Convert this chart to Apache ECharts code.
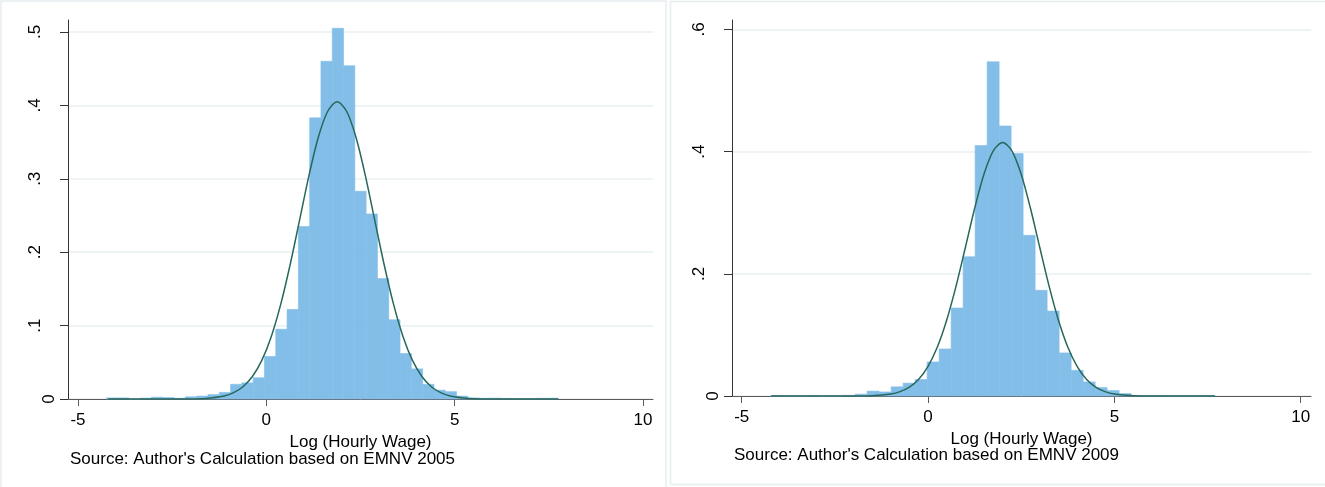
<!DOCTYPE html>
<html>
<head>
<meta charset="utf-8">
<script src="https://cdn.jsdelivr.net/npm/echarts@6/dist/echarts.min.js"></script>
<style>
html,body{margin:0;padding:0;background:#fff;}
#chart{width:1325px;height:487px;}
</style>
</head>
<body>
<div id="chart"></div>
<script>
// ---------- DATA ----------
// 2005 histogram (density), bins of equal width
const binStart2005 = -4.25;
const binWidth2005 = 0.3;
const heights2005 = [
  0.0015, 0.0015, 0.0, 0.0012, 0.0025, 0.002, 0.001, 0.003, 0.004, 0.006,
  0.009, 0.020, 0.022, 0.029, 0.058, 0.095, 0.122, 0.235, 0.383, 0.460,
  0.505, 0.454, 0.283, 0.252, 0.164, 0.108, 0.062, 0.041, 0.020, 0.012,
  0.010, 0.004, 0.0015, 0.001, 0.0012, 0.0008, 0.0005, 0.0005, 0.001, 0.001
];
// 2005 normal density curve
const curveX2005 = [-4.2, -3, -2.12, -1.62, -1.12, -0.87, -0.62, -0.37, -0.12, 0.13, 0.38, 0.63, 0.88, 1.13, 1.38, 1.63, 1.88, 2.13, 2.38, 2.63, 2.88, 3.13, 3.38, 3.63, 3.88, 4.13, 4.38, 4.63, 4.88, 5.38, 5.88, 7.75];
const curveY2005 = [0, 0, 0.0001, 0.0008, 0.0041, 0.0086, 0.0167, 0.0306, 0.0526, 0.0849, 0.1285, 0.1825, 0.243, 0.304, 0.3565, 0.392, 0.405, 0.392, 0.3565, 0.304, 0.243, 0.1825, 0.1285, 0.0849, 0.0526, 0.0306, 0.0167, 0.0086, 0.0041, 0.0008, 0.0001, 0];

// 2009 histogram (density)
const binStart2009 = -4.21;
const binWidth2009 = 0.322;
const heights2009 = [
  0.0005, 0, 0, 0.0005, 0, 0, 0.001, 0.003, 0.008, 0.0066,
  0.015, 0.021, 0.027, 0.0557, 0.077, 0.144, 0.228, 0.410, 0.547, 0.442,
  0.397, 0.263, 0.173, 0.139, 0.0705, 0.042, 0.023, 0.0137, 0.009, 0.004,
  0.001, 0.0005, 0.0005, 0.0003, 0.0003, 0.0003, 0.0005
];
const curveX2009 = [-4.21, -3, -2, -1.5, -1.0, -0.75, -0.5, -0.25, 0, 0.25, 0.5, 0.75, 1.0, 1.25, 1.5, 1.75, 2.0, 2.25, 2.5, 2.75, 3.0, 3.25, 3.5, 3.75, 4.0, 4.25, 4.5, 4.75, 5.0, 5.5, 6.0, 7.7];
const curveY2009 = [0, 0, 0.0001, 0.0006, 0.0033, 0.0072, 0.0145, 0.0274, 0.0485, 0.0801, 0.124, 0.1794, 0.2426, 0.3068, 0.3629, 0.4013, 0.415, 0.4013, 0.3629, 0.3068, 0.2426, 0.1794, 0.124, 0.0801, 0.0485, 0.0274, 0.0145, 0.0072, 0.0033, 0.0006, 0.0001, 0];

// ticks
const xTickValues = [-5, 0, 5, 10];
const xTickLabels = ['-5', '0', '5', '10'];
const yTickValues2005 = [0, 0.1, 0.2, 0.3, 0.4, 0.5];
const yTickLabels2005 = ['0', '.1', '.2', '.3', '.4', '.5'];
const yTickValues2009 = [0, 0.2, 0.4, 0.6];
const yTickLabels2009 = ['0', '.2', '.4', '.6'];

const xAxisTitle = 'Log (Hourly Wage)';
const source2005 = "Source: Author's Calculation based on EMNV 2005";
const source2009 = "Source: Author's Calculation based on EMNV 2009";

// ---------- STYLE ----------
const FONT = "'Liberation Sans', Arial, Helvetica, sans-serif";
const BAR = '#83bee9';
const CURVE = '#26685b';
const GRIDC = '#e8eff1';

function lookup(vals, labels) {
  return function (v) {
    for (let i = 0; i < vals.length; i++) if (Math.abs(vals[i] - v) < 1e-9) return labels[i];
    return '';
  };
}

function histData(start, width, heights) {
  return heights.map((h, i) => [start + i * width, start + (i + 1) * width, h]);
}

function renderHist(params, api) {
  const p0 = api.coord([api.value(0), api.value(2)]);
  const p1 = api.coord([api.value(1), 0]);
  return {
    type: 'rect',
    shape: { x: p0[0], y: p0[1], width: p1[0] - p0[0], height: p1[1] - p0[1] },
    style: { fill: BAR, stroke: BAR, lineWidth: 0.6 }
  };
}

function xAxisCfg(gi, min, max) {
  return {
    type: 'value', gridIndex: gi, min: min, max: max,
    axisLine: { show: true, onZero: false, lineStyle: { color: '#5a5a5a', width: 1 } },
    axisTick: { show: true, length: 7, customValues: xTickValues, lineStyle: { color: '#5a5a5a' } },
    axisLabel: { customValues: xTickValues, formatter: lookup(xTickValues, xTickLabels), margin: 13,
      color: '#000', fontSize: 17, fontFamily: FONT },
    splitLine: { show: false },
    name: xAxisTitle, nameLocation: 'middle', nameGap: 26,
    nameTextStyle: { color: '#000', fontSize: 17, fontFamily: FONT }
  };
}

function yAxisMain(gi, max, interval, vals, labels) {
  return {
    type: 'value', gridIndex: gi, min: 0, max: max, interval: interval, position: 'left',
    axisLine: { show: true, onZero: false, lineStyle: { color: '#333', width: 1 } },
    axisTick: { show: true, length: 8, customValues: vals, lineStyle: { color: '#333' } },
    axisLabel: { customValues: [0], rotate: 90, margin: 10, formatter: lookup(vals, labels),
      color: '#000', fontSize: 17, fontFamily: FONT },
    splitLine: { show: true, lineStyle: { color: GRIDC, width: 1.5 } }
  };
}
function yAxisLabels(gi, max, interval, vals, labels) {
  return {
    type: 'value', gridIndex: gi, min: 0, max: max, interval: interval, position: 'left', offset: 0,
    axisLine: { show: false, onZero: false }, axisTick: { show: false },
    axisLabel: { customValues: vals.slice(1), rotate: 90, margin: 24, formatter: lookup(vals, labels),
      color: '#000', fontSize: 17, fontFamily: FONT },
    splitLine: { show: false }
  };
}

const chart = echarts.init(document.getElementById('chart'), null, { renderer: 'canvas' });
chart.setOption({
  animation: false,
  backgroundColor: '#fff',
  grid: [
    { left: 68, top: 20, width: 585, height: 379, outerBoundsMode: 'none', containLabel: false },
    { left: 732, top: 20, width: 579, height: 376, outerBoundsMode: 'none', containLabel: false }
  ],
  xAxis: [ xAxisCfg(0, -5.2655, 10.2655), xAxisCfg(1, -5.26, 10.276) ],
  yAxis: [
    yAxisMain(0, 0.5163, 0.1, yTickValues2005, yTickLabels2005),
    yAxisLabels(0, 0.5163, 0.1, yTickValues2005, yTickLabels2005),
    yAxisMain(1, 0.6154, 0.2, yTickValues2009, yTickLabels2009),
    yAxisLabels(1, 0.6154, 0.2, yTickValues2009, yTickLabels2009)
  ],
  graphic: [
    { type: 'rect', silent: true, z: -10, shape: { x: 1, y: 1, width: 665, height: 495 },
      style: { fill: 'none', stroke: '#e6eef0', lineWidth: 1.5 } },
    { type: 'rect', silent: true, z: -10, shape: { x: 670.5, y: 1.5, width: 660, height: 483 },
      style: { fill: 'none', stroke: '#e6eef0', lineWidth: 1.5 } },
    { type: 'text', x: 70, y: 459.5, style: { text: source2005, fill: '#000', font: '17px ' + FONT, verticalAlign: 'middle' } },
    { type: 'text', x: 734, y: 455.5, style: { text: source2009, fill: '#000', font: '17px ' + FONT, verticalAlign: 'middle' } }
  ],
  series: [
    { type: 'custom', xAxisIndex: 0, yAxisIndex: 0, z: 2, renderItem: renderHist,
      encode: { x: [0, 1], y: 2 }, data: histData(binStart2005, binWidth2005, heights2005) },
    { type: 'line', xAxisIndex: 0, yAxisIndex: 0, z: 3, showSymbol: false, smooth: 0.3,
      lineStyle: { color: CURVE, width: 1.5 },
      data: curveX2005.map((x, i) => [x, curveY2005[i]]) },
    { type: 'custom', xAxisIndex: 1, yAxisIndex: 2, z: 2, renderItem: renderHist,
      encode: { x: [0, 1], y: 2 }, data: histData(binStart2009, binWidth2009, heights2009) },
    { type: 'line', xAxisIndex: 1, yAxisIndex: 2, z: 3, showSymbol: false, smooth: 0.3,
      lineStyle: { color: CURVE, width: 1.5 },
      data: curveX2009.map((x, i) => [x, curveY2009[i]]) }
  ]
});
</script>
</body>
</html>
